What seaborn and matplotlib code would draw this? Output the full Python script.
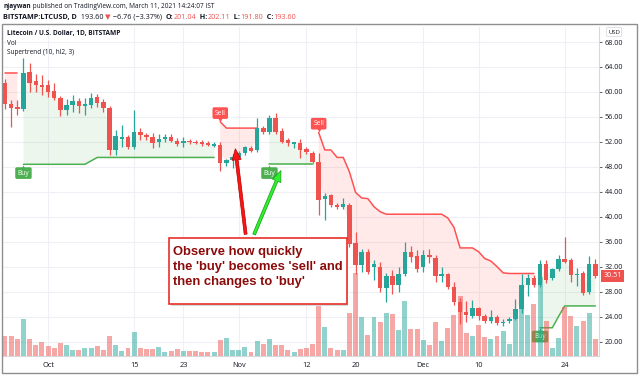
import numpy as np
import pandas as pd
import matplotlib
matplotlib.use("Agg")
import matplotlib.pyplot as plt
import seaborn as sns
from matplotlib.patches import Rectangle, FancyArrowPatch
from matplotlib.ticker import FormatStrFormatter
from matplotlib.transforms import offset_copy

nan = float("nan")

# ---------------- data ----------------
dates = pd.date_range("2018-09-24", "2018-12-29", freq="D")
opens = [61.5,58.0,57.6,57.3,63.2,61.8,61.1,61.1,60.1,59.1, 57.1,57.9,58.5,57.7,57.9,59.2,58.4,57.5,50.7,52.5,
         52.8,51.2,53.6,53.1,52.8,51.9,52.4,52.8,52.2,51.8, 52.2,52.0,51.9,51.8,51.4,51.5,48.6,49.1,49.5,50.2,
         51.0,50.7,54.2,53.5,55.9,53.8,52.3,51.6,51.8,50.9, 50.2,48.8,42.8,43.5,41.9,41.6,41.9,35.8,32.3,34.4,
         32.0,31.9,28.5,30.5,29.1,30.9,34.4,33.7,31.9,33.9, 33.4,30.5,30.8,28.7,26.4,24.8,24.1,25.3,24.1,23.3,
         24.0,22.9,23.3,23.6,25.2,29.1,30.1,29.1,32.4,30.1, 31.6,33.2,33.1,30.7,31.0,27.9,32.4]
highs = [62.0,58.7,58.7,65.5,64.7,62.9,62.7,61.9,61.4,59.4, 58.8,59.5,59.0,59.0,59.9,59.6,58.8,57.8,53.9,54.7,
         53.1,57.1,54.2,53.4,53.4,53.2,53.3,53.3,52.6,52.7, 52.4,52.3,52.3,52.1,52.0,51.9,49.3,50.0,50.5,51.4,
         51.4,55.9,54.5,56.3,56.6,54.2,52.6,52.0,52.4,51.2, 50.5,50.2,43.8,43.7,42.2,43.0,42.2,37.6,34.8,34.8,
         33.1,32.8,31.0,31.4,32.0,36.0,35.3,34.6,34.6,34.8, 33.9,32.0,31.0,29.5,27.0,26.5,26.7,25.6,24.4,25.0,
         24.3,23.6,24.0,26.8,30.9,30.9,30.6,33.1,33.0,31.8, 33.9,36.7,33.4,31.8,31.3,33.7,33.3]
lows = [57.2,54.4,56.3,57.0,60.0,60.0,59.5,59.2,58.7,56.2, 56.3,56.8,56.7,56.3,57.5,57.6,56.8,49.9,49.9,51.2,
        50.8,50.8,52.3,52.3,51.0,51.2,52.0,52.0,51.3,51.2, 51.6,51.6,51.3,51.3,51.1,47.4,48.2,47.8,49.2,49.9,
        50.3,50.4,53.3,53.3,53.3,51.8,51.4,51.0,49.4,50.0, 48.6,40.3,39.5,41.6,41.2,41.3,35.2,30.9,31.2,30.9,
        29.9,27.9,26.4,27.6,27.9,30.5,32.8,31.2,31.2,32.6, 29.6,29.6,28.4,25.9,22.8,23.1,23.8,23.5,23.0,23.0,
        22.6,22.5,23.0,23.4,24.6,27.3,28.8,28.8,29.4,29.8, 31.3,32.6,29.6,28.9,27.4,27.6,30.2]
closes = [58.0,57.5,57.3,63.1,61.5,61.1,60.8,60.0,59.1,57.1, 57.9,58.5,57.8,58.0,59.1,58.3,57.4,50.7,52.9,52.7,
          51.2,53.5,53.1,52.8,51.8,52.4,52.8,52.1,51.7,52.2, 51.9,51.8,51.6,51.5,51.7,48.6,49.1,49.6,50.2,51.1,
          50.6,54.2,53.6,55.9,53.6,52.0,51.8,51.9,50.7,50.4, 48.8,42.7,43.4,41.9,41.6,42.0,35.7,32.3,34.4,31.2,
          32.5,28.5,30.5,29.1,30.8,34.4,33.6,31.7,33.8,33.5, 30.5,30.8,28.8,26.4,24.8,24.2,25.3,24.1,23.3,24.0,
          22.9,23.2,23.6,25.2,29.1,30.1,29.1,32.4,29.9,31.6, 33.2,32.8,30.7,30.9,27.8,32.4,30.51]
volumes = [200,200,170,370,170,110,140,100,80,130, 110,60,60,80,80,100,60,200,110,50,
           80,240,80,70,70,90,40,50,70,50, 50,50,40,40,40,160,180,60,60,90,
           40,150,120,170,110,110,60,40,70,80, 120,570,290,80,60,60,430,830,390,210,
           390,340,430,420,260,550,270,270,160,110, 340,150,280,410,600,230,200,310,190,170,
           200,250,120,370,480,410,520,790,350,80, 180,490,400,300,350,430,170]
st_down = ([63.1]*3 + [nan]*32 + [55.2] + [54.2]*6 + [nan]*9 +
           [53.5, 50.7, 50.7, 49.5, 49.5, 47.2, 43.9, 43.0, 42.9, 41.6, 40.8] + [40.4]*10 +
           [39.8, 38.3, 35.0, 35.0, 35.0, 34.4, 33.3, 32.9, 32.0, 31.0] + [30.9]*5 + [nan]*10)
st_up = ([nan]*3 + [48.4]*11 + [48.95] + [49.5]*20 + [nan]*8 + [48.4]*8 + [nan]*36 +
         [22.2]*3 + [24.0] + [25.7]*6)
buy_idx = [3, 43, 87]
sell_idx = [35, 51]
tick_dates = ["2018-10-01", "2018-10-15", "2018-10-23", "2018-11-01", "2018-11-12",
              "2018-11-20", "2018-12-01", "2018-12-10", "2018-12-24"]
tick_labels = ["Oct", "15", "23", "Nov", "12", "20", "Dec", "10", "24"]
price_ticks = [20, 24, 28, 32, 36, 40, 44, 48, 52, 56, 60, 64, 68]
last_price = 30.51

# ---------------- style ----------------
sns.set_theme(style="white")
plt.rcParams['font.family'] = ['Open Sans', 'DejaVu Sans']

UP, DOWN = "#26a69a", "#ef5350"
ST_UP, ST_DN = "#4caf50", "#ff5252"
TXT = "#131722"

W, H = 640, 377
fig = plt.figure(figsize=(W/100, H/100), dpi=100)
fig.patch.set_facecolor("white")
def fx(x): return x / W
def fy(y): return 1 - y / H

AX_L, AX_R, AX_T, AX_B = 3, 599, 27, 356
ax = fig.add_axes([fx(AX_L), fy(AX_B), (AX_R-AX_L)/W, (AX_B-AX_T)/H])

n = len(dates)
x = np.arange(n)
o, h, l, c = map(np.array, (opens, highs, lows, closes))
up = c >= o
cols = np.where(up, UP, DOWN)

ax.set_xlim((AX_L - 5) / 6.15, (AX_R - 5) / 6.15)
ax.set_ylim(68 - (AX_B - 42) / 6.24, 68 + (42 - AX_T) / 6.24)

# supertrend fills & lines
mid = (o + c) / 2
sd, su = np.array(st_down), np.array(st_up)
ax.fill_between(x, su, mid, color=ST_UP, alpha=0.1, lw=0, zorder=1)
ax.fill_between(x, sd, mid, color=ST_DN, alpha=0.12, lw=0, zorder=1)

def segments(vals):
    segs, cur = [], []
    for i, v in enumerate(vals):
        if np.isnan(v):
            if cur:
                segs.append(cur); cur = []
        else:
            cur.append(i)
    if cur:
        segs.append(cur)
    return segs

for vals, col in ((su, ST_UP), (sd, ST_DN)):
    for seg in segments(vals):
        if len(seg) > 1:
            sns.lineplot(x=x[seg], y=vals[seg], ax=ax, color=col, lw=1.1,
                         estimator=None, legend=False, zorder=2)

# Buy / Sell labels
for i in buy_idx:
    ax.annotate("Buy", xy=(i, su[i]), xytext=(0, -3.8), textcoords="offset points",
                ha="center", va="top", fontsize=4.8, color="white", zorder=3,
                bbox=dict(boxstyle="round,pad=0.35,rounding_size=0.25", fc=ST_UP, ec="none"))
    ax.plot(i, su[i], marker="^", ms=3, color=ST_UP, mec="none", zorder=3,
            transform=offset_copy(ax.transData, fig, 0, -2.2, units="dots"))
for i in sell_idx:
    ax.annotate("Sell", xy=(i, sd[i]), xytext=(0, 3.8), textcoords="offset points",
                ha="center", va="bottom", fontsize=4.8, color="white", zorder=3,
                bbox=dict(boxstyle="round,pad=0.35,rounding_size=0.25", fc=ST_DN, ec="none"))
    ax.plot(i, sd[i], marker="v", ms=3, color=ST_DN, mec="none", zorder=3,
            transform=offset_copy(ax.transData, fig, 0, 2.2, units="dots"))

# volume (overlay at bottom, own scale in axes fraction)
vol = np.array(volumes, dtype=float)
vol_top = vol.max() / 0.252
ax.bar(x, vol / vol_top, bottom=0, width=0.8, color=cols, alpha=0.5, lw=0,
       transform=ax.get_xaxis_transform(), zorder=4)

# candles
ax.vlines(x, l, h, colors=cols, lw=0.9, zorder=5)
body_b = np.minimum(o, c)
body_h = np.maximum(np.abs(c - o), 0.14)
ax.bar(x, body_h, bottom=body_b, width=0.72, color=cols, lw=0, zorder=6)

# axes styling
tick_pos = [(pd.Timestamp(d) - dates[0]).days for d in tick_dates]
ax.set_xticks(tick_pos)
ax.set_xticklabels(tick_labels)
ax.set_yticks(price_ticks)
ax.yaxis.set_major_formatter(FormatStrFormatter("%.2f"))
ax.yaxis.tick_right()
ax.tick_params(axis="y", labelsize=5.2, colors="#444444", length=2, width=0.6, pad=2, labelcolor=TXT)
ax.tick_params(axis="x", labelsize=5.3, length=0, pad=4, labelcolor=TXT)
ax.grid(True, color="#eef0f5", lw=0.8)
ax.set_axisbelow(True)
for s in ("top", "left"):
    ax.spines[s].set_visible(False)
for s in ("right", "bottom"):
    ax.spines[s].set_color("#d6d8de")
    ax.spines[s].set_linewidth(0.8)
ax.set_xlabel("")
ax.set_ylabel("")

# last price label
ax.annotate(f"{last_price:.2f}", xy=(1, last_price), xycoords=ax.get_yaxis_transform(),
            xytext=(3.2, 0), textcoords="offset points", ha="left", va="center",
            fontsize=5.2, color="white", zorder=10, annotation_clip=False,
            bbox=dict(boxstyle="square,pad=0.3", fc=DOWN, ec="none"))
fig.text(fx(614), fy(32), "USD", fontsize=4.3, color=TXT, ha="center", va="center",
         bbox=dict(boxstyle="round,pad=0.3,rounding_size=0.2", fc="white", ec="#d1d4dc", lw=0.5))

# outer frame
fig.add_artist(Rectangle((fx(2), fy(373)), 635 / W, 349 / H, transform=fig.transFigure,
                         fill=False, ec="#8f8f8f", lw=1.0))

# ---------------- texts ----------------
renderer = fig.canvas.get_renderer()
def text_width(s, size, weight):
    t1 = fig.text(0, 0, "x" + s + "x", fontsize=size, fontweight=weight)
    t2 = fig.text(0, 0, "xx", fontsize=size, fontweight=weight)
    w = t1.get_window_extent(renderer).width - t2.get_window_extent(renderer).width
    t1.remove(); t2.remove()
    return w

def pieces(x0, y, items, size):
    xx = x0
    for s, color, weight in items:
        fig.text(fx(xx), fy(y), s, fontsize=size, color=color, fontweight=weight,
                 ha="left", va="center")
        xx += text_width(s, size, weight)

RED = "#ef5350"
pieces(3, 6.5, [("njaywan", TXT, "bold"),
                (" published on TradingView.com, March 11, 2021 14:24:07 IST", TXT, "normal")], 4.7)
pieces(3, 17.5, [("BITSTAMP:LTCUSD, D", TXT, "bold"), ("  193.60 ", TXT, "normal"),
                 ("▼", RED, "normal"), (" −6.76 (−3.37%)  ", TXT, "normal"),
                 ("O:", TXT, "bold"), ("201.04", RED, "normal"),
                 ("  H:", TXT, "bold"), ("202.11", RED, "normal"),
                 ("  L:", TXT, "bold"), ("191.80", RED, "normal"),
                 ("  C:", TXT, "bold"), ("193.60", RED, "normal")], 5.2)

fig.text(fx(7), fy(34), "Litecoin / U.S. Dollar, 1D, BITSTAMP", fontsize=4.7,
         fontweight="bold", color=TXT, va="center")
fig.text(fx(7), fy(43.5), "Vol", fontsize=4.7, color=TXT, va="center")
fig.text(fx(7), fy(52.5), "Supertrend (10, hl2, 3)", fontsize=4.7, color=TXT, va="center")

# annotation box
fig.add_artist(Rectangle((fx(171), fy(306)), 177.4 / W, 65.7 / H, transform=fig.transFigure,
                         fc="#d9d9d9", ec="none", zorder=19))
fig.add_artist(Rectangle((fx(169.3), fy(304)), 177.4 / W, 65.7 / H, transform=fig.transFigure,
                         fc="white", ec="#e8302a", lw=1.2, zorder=20))
ann_lines = ["Observe how quickly", "the 'buy' becomes 'sell' and", "then changes to 'buy'"]
for k, s in enumerate(ann_lines):
    fig.text(fx(172.7), fy(251.7 + 15.3 * k), s, fontsize=9.4, fontweight="bold",
             color="#8b0b0b", family=["Liberation Sans", "DejaVu Sans"],
             ha="left", va="center", zorder=21)

# arrows
for (x0, y0, x1, y1, fc, ec) in [(246, 237, 235, 146, "#ff1414", "#b00000"),
                                 (253, 237, 282, 168, "#2ef02e", "#129a12")]:
    fig.add_artist(FancyArrowPatch((fx(x0), fy(y0)), (fx(x1), fy(y1)), transform=fig.transFigure,
                                   arrowstyle="simple,head_width=6.5,head_length=8,tail_width=2.1",
                                   mutation_scale=1, fc=fc, ec=ec, lw=0.5, zorder=22))

fig.savefig("out.png", dpi=100)
